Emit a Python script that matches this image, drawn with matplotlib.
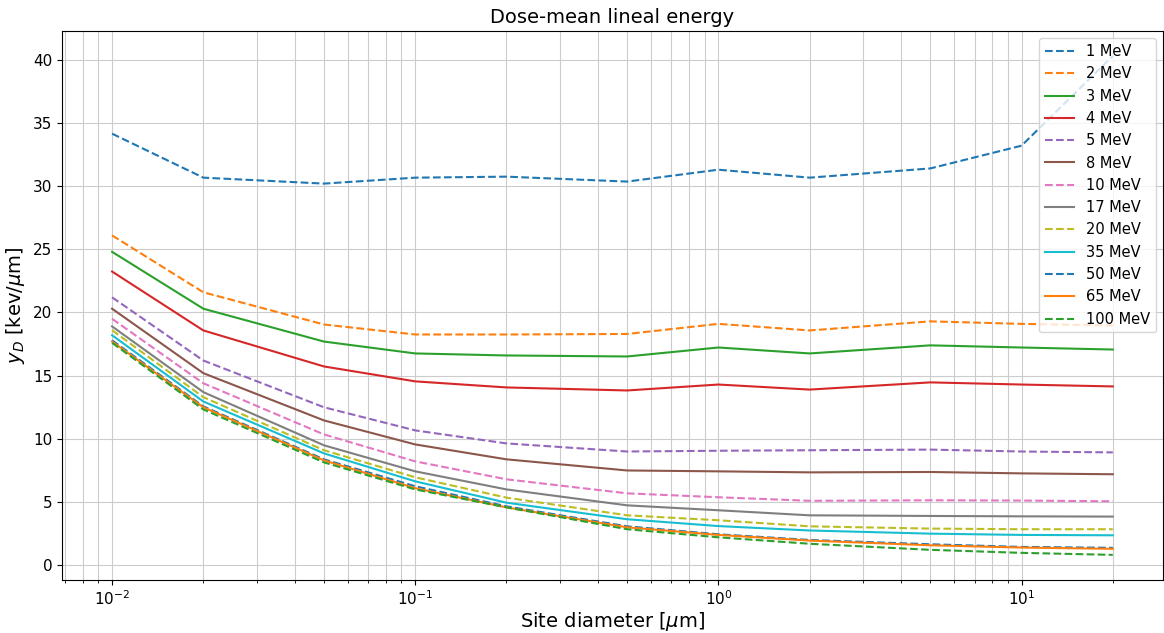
import numpy as np
import matplotlib.pyplot as plt

# site diameters in micrometres
diameters = [0.01, 0.02, 0.05, 0.1, 0.2, 0.5, 1, 2, 5, 10, 20]

energies = ["1 MeV", "2 MeV", "3 MeV", "4 MeV", "5 MeV", "8 MeV", "10 MeV",
            "17 MeV", "20 MeV", "35 MeV", "50 MeV", "65 MeV", "100 MeV"]

# dose-mean lineal energy per proton energy
yD_1 = [34.15, 30.67, 30.2, 30.67, 30.75, 30.36, 31.3, 30.67, 31.4, 33.2, 40.3]
yD_2 = [26.1, 21.6, 19.05, 18.26, 18.26, 18.3, 19.1, 18.58, 19.3, 19.1, 18.97]
yD_3 = [24.8, 20.3, 17.7, 16.76, 16.6, 16.52, 17.23, 16.76, 17.4, 17.23, 17.07]
yD_4 = [23.24, 18.58, 15.73, 14.55, 14.07, 13.83, 14.3, 13.9, 14.47, 14.3, 14.15]
yD_5 = [21.2, 16.2, 12.5, 10.67, 9.64, 9.0, 9.06, 9.1, 9.15, 9.0, 8.93]
yD_8 = [20.3, 15.2, 11.46, 9.56, 8.38, 7.5, 7.43, 7.35, 7.38, 7.27, 7.2]
yD_10 = [19.5, 14.4, 10.35, 8.22, 6.8, 5.69, 5.38, 5.1, 5.14, 5.12, 5.06]
yD_17 = [18.9, 13.7, 9.49, 7.43, 6.0, 4.74, 4.35, 3.95, 3.9, 3.87, 3.85]
yD_20 = [18.6, 13.3, 9.1, 6.96, 5.35, 3.95, 3.56, 3.08, 2.9, 2.85, 2.85]
yD_35 = [18.2, 12.96, 8.85, 6.64, 4.95, 3.64, 3.1, 2.75, 2.5, 2.4, 2.37]
yD_50 = [17.8, 12.57, 8.38, 6.25, 4.66, 3.08, 2.45, 2.0, 1.66, 1.45, 1.38]
yD_65 = [17.7, 12.5, 8.3, 6.1, 4.58, 3.0, 2.4, 1.95, 1.58, 1.4, 1.3]
yD_100 = [17.6, 12.33, 8.14, 6.0, 4.58, 2.85, 2.21, 1.7, 1.22, 0.98, 0.82]

series = [yD_1, yD_2, yD_3, yD_4, yD_5, yD_8, yD_10,
          yD_17, yD_20, yD_35, yD_50, yD_65, yD_100]
styles = ['--', '--', '-', '-', '--', '-', '--', '-', '--', '-', '--', '-', '--']

fig, ax = plt.subplots(figsize=(11.64, 6.33), dpi=100)
fig.subplots_adjust(left=0.0533, right=0.999, top=0.951, bottom=0.084)

for label, vals, ls in zip(energies, series, styles):
    ax.plot(diameters, vals, ls, label=label, lw=1.5)

ax.set_xscale('log')
ax.grid(True, which='both', color='#cccccc', lw=0.8)
ax.set_title("Dose-mean lineal energy", fontsize=14)
ax.set_xlabel(r"Site diameter [$\mu$m]", fontsize=14, labelpad=1)
ax.set_ylabel(r"$y_D$ [kev/$\mu$m]", fontsize=14)
ax.tick_params(labelsize=11)
ax.legend(loc='upper right', fontsize=10.5)

plt.savefig("out.png")
